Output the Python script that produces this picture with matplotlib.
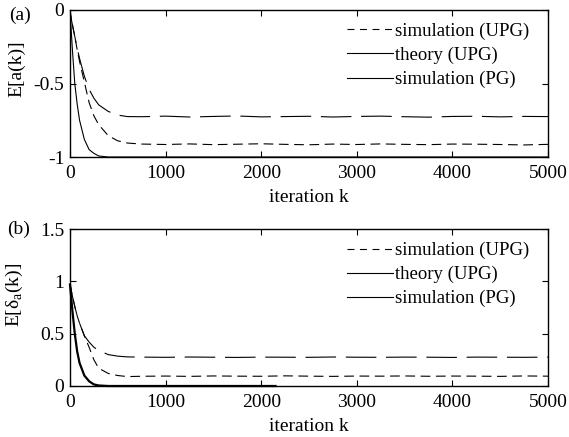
"""
Recreate the two-panel convergence figure: E[a(k)] and E[delta_a(k)] vs iteration k.
"""

import matplotlib
matplotlib.use("Agg")
import matplotlib.pyplot as plt
from matplotlib.lines import Line2D

plt.rcParams["font.family"] = ["Liberation Serif", "DejaVu Serif"]
plt.rcParams["mathtext.fontset"] = "custom"
plt.rcParams["mathtext.rm"] = "Liberation Serif"
plt.rcParams["axes.unicode_minus"] = False
plt.rcParams["lines.scale_dashes"] = False

FS = 14

# transient part (iterations), shared by all curves
k_head = [0, 25, 50, 75, 100, 150, 200, 250, 300, 400, 500, 600]
# steady-state part
k_tail = [750, 1000, 1250, 1500, 1750, 2000, 2250, 2500, 2750, 3000,
          3250, 3500, 3750, 4000, 4250, 4500, 4750, 5000]

# panel (a): E[a(k)]
a_upper_head = [-0.02, -0.10, -0.18, -0.26, -0.33, -0.45, -0.54, -0.60, -0.645, -0.69, -0.715, -0.725]
a_upper_tail = [-0.726, -0.722, -0.728, -0.724, -0.721, -0.727, -0.725, -0.723, -0.728, -0.724,
                -0.722, -0.726, -0.729, -0.724, -0.723, -0.727, -0.724, -0.725]
a_lower_head = [0.0, -0.10, -0.18, -0.27, -0.35, -0.49, -0.63, -0.72, -0.78, -0.855, -0.89, -0.905]
a_lower_tail = [-0.912, -0.915, -0.911, -0.916, -0.913, -0.910, -0.914, -0.917, -0.912, -0.915,
                -0.911, -0.914, -0.916, -0.912, -0.913, -0.915, -0.918, -0.914]
a_pg_head = [0.0, -0.27, -0.50, -0.64, -0.75, -0.88, -0.95, -0.975, -0.993, -1.0, -1.0, -1.0]
a_pg_tail = [-1.0] * len(k_tail)

# panel (b): E[delta_a(k)]
b_upper_head = [0.97, 0.86, 0.76, 0.67, 0.60, 0.48, 0.42, 0.37, 0.34, 0.30, 0.285, 0.278]
b_upper_tail = [0.276, 0.274, 0.277, 0.275, 0.273, 0.276, 0.275, 0.274, 0.277, 0.275,
                0.274, 0.276, 0.275, 0.273, 0.276, 0.275, 0.274, 0.276]
b_lower_head = [0.97, 0.86, 0.76, 0.67, 0.60, 0.48, 0.37, 0.25, 0.17, 0.12, 0.10, 0.09]
b_lower_tail = [0.093, 0.095, 0.092, 0.096, 0.094, 0.093, 0.097, 0.094, 0.092, 0.095,
                0.094, 0.096, 0.093, 0.095, 0.094, 0.092, 0.096, 0.094]
k_pg_b = [0, 25, 50, 75, 100, 150, 200, 250, 300, 400, 1000, 2150]
b_pg = [0.97, 0.72, 0.50, 0.33, 0.22, 0.10, 0.045, 0.015, 0.005, 0.0, 0.0, 0.0]

legend_labels = ["simulation (UPG)", "theory (UPG)", "simulation (PG)"]
x_ticks = [0, 1000, 2000, 3000, 4000, 5000]


def style_axes(ax):
    ax.tick_params(direction="in", top=True, right=True, length=4, width=0.8,
                   labelsize=FS)
    ax.tick_params(axis="x", pad=6)
    ax.tick_params(axis="y", pad=4)
    for sp in ax.spines.values():
        sp.set_linewidth(1.0)
    ax.set_xlim(0, 5000)
    ax.set_xticks(x_ticks)
    ax.set_xlabel("iteration k", fontsize=FS, labelpad=5)


def add_legend(ax):
    handles = [
        Line2D([], [], color="black", lw=0.8, dashes=(5, 4)),
        Line2D([], [], color="black", lw=0.8),
        Line2D([], [], color="black", lw=0.8),
    ]
    ax.legend(handles, legend_labels, loc="upper right", bbox_to_anchor=(0.985, 0.99),
              frameon=False, fontsize=13.5, handlelength=2.5, handletextpad=0.1,
              labelspacing=0.36, borderaxespad=0.2)


fig = plt.figure(figsize=(5.69, 4.37), dpi=100)
ax_a = fig.add_axes([70 / 569, 1 - 157 / 437, 478 / 569, 147 / 437])
ax_b = fig.add_axes([70 / 569, 1 - 386 / 437, 478 / 569, 157 / 437])

kk = k_head + k_tail

# (a)
ax_a.plot(kk, a_upper_head + a_upper_tail, color="black", lw=0.8, dashes=(22, 7))
ax_a.plot(kk, a_lower_head + a_lower_tail, color="black", lw=0.8, dashes=(7, 4))
ax_a.plot(kk, a_pg_head + a_pg_tail, color="black", lw=0.8)
ax_a.set_ylim(-1, 0)
ax_a.set_yticks([-1, -0.5, 0])
ax_a.set_yticklabels(["-1", "-0.5", "0"])
ax_a.set_ylabel("E[a(k)]", fontsize=FS)
ax_a.yaxis.set_label_coords(-0.094, 0.60)
style_axes(ax_a)
add_legend(ax_a)

# (b)
ax_b.plot(kk, b_upper_head + b_upper_tail, color="black", lw=0.8, dashes=(22, 7))
ax_b.plot(kk, b_lower_head + b_lower_tail, color="black", lw=0.8, dashes=(7, 4))
ax_b.plot(k_pg_b, b_pg, color="black", lw=1.6, clip_on=False)
ax_b.set_ylim(0, 1.5)
ax_b.set_yticks([0, 0.5, 1, 1.5])
ax_b.set_yticklabels(["0", "0.5", "1", "1.5"])
ax_b.set_ylabel("E[δ$_\\mathrm{a}$(k)]", fontsize=FS)
ax_b.yaxis.set_label_coords(-0.094, 0.58)
style_axes(ax_b)
add_legend(ax_b)

fig.text(9 / 569, 1 - 15 / 437, "(a)", fontsize=FS, va="center", ha="left")
fig.text(7 / 569, 1 - 229 / 437, "(b)", fontsize=FS, va="center", ha="left")

fig.savefig("out.png", dpi=100)
